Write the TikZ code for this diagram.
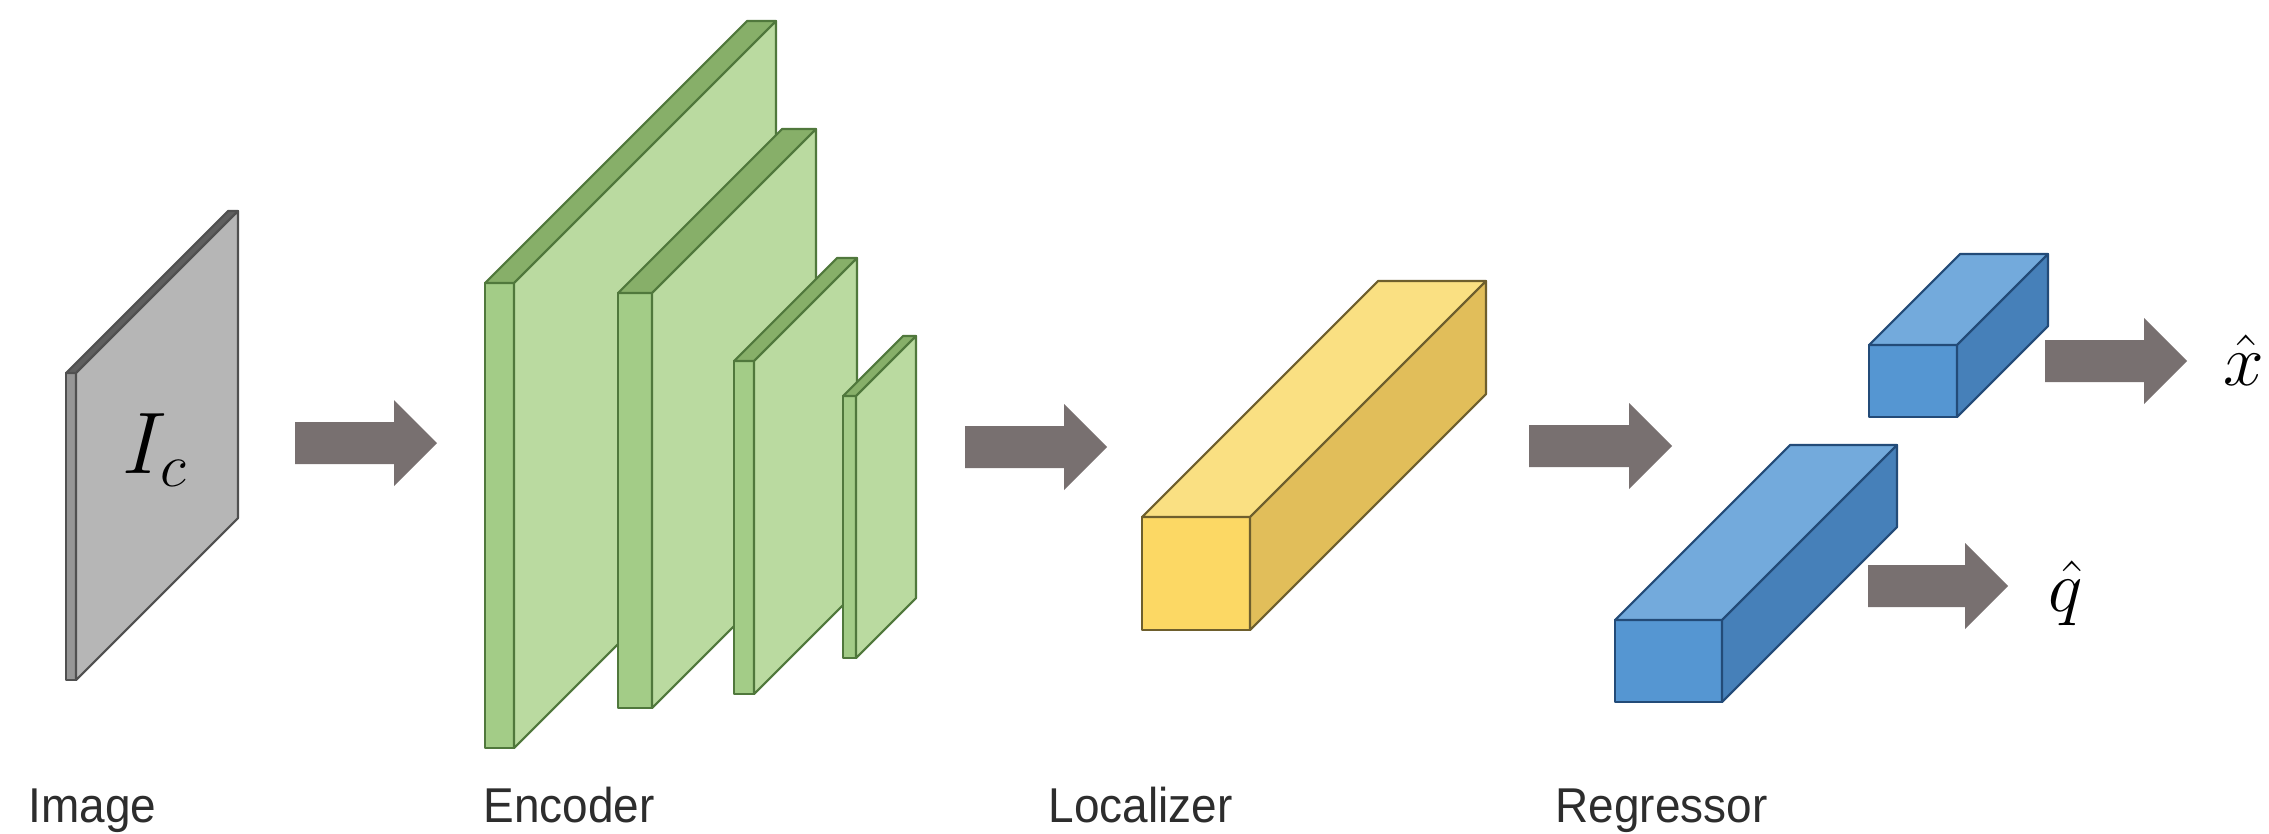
\documentclass[tikz,border=0pt]{standalone}
\usepackage{fontspec}
\newfontfamily\labelfont[FakeStretch=0.94]{Liberation Sans}
\usetikzlibrary{calc}

\definecolor{arrowgray}{RGB}{120,112,112}
\definecolor{textgray}{RGB}{45,45,45}
% green encoder slabs
\definecolor{gfront}{RGB}{163,204,135}
\definecolor{gtop}{RGB}{135,175,105}
\definecolor{gside}{RGB}{186,218,160}
\definecolor{gedge}{RGB}{80,120,60}
% yellow localizer bar
\definecolor{yfront}{RGB}{252,216,100}
\definecolor{ytop}{RGB}{250,224,130}
\definecolor{yside}{RGB}{225,190,90}
\definecolor{yedge}{RGB}{110,95,45}
% blue regressor bars
\definecolor{bfront}{RGB}{85,150,210}
\definecolor{btop}{RGB}{115,170,220}
\definecolor{bside}{RGB}{70,128,185}
\definecolor{bedge}{RGB}{35,75,120}
% grey image plane
\definecolor{ifront}{RGB}{150,150,150}
\definecolor{itop}{RGB}{95,95,95}
\definecolor{iside}{RGB}{182,182,182}
\definecolor{iedge}{RGB}{80,80,80}

% cuboid: name, x, y (top of front face), width, height, depth, colour prefix
\newcommand\cuboid[7]{%
  \filldraw[#7front, draw=#7edge, line width=0.6pt, line join=round]
    (#2,#3) rectangle (#2+#4,#3+#5);
  \filldraw[#7top, draw=#7edge, line width=0.6pt, line join=round]
    (#2,#3) -- (#2+#6,#3-#6) -- (#2+#4+#6,#3-#6) -- (#2+#4,#3) -- cycle;
  \filldraw[#7side, draw=#7edge, line width=0.6pt, line join=round]
    (#2+#4,#3) -- (#2+#4+#6,#3-#6) -- (#2+#4+#6,#3+#5-#6) -- (#2+#4,#3+#5) -- cycle;
  \coordinate (#1) at (#2+#4/2,#3+#5/2);
}

% wide block arrow between two named coordinates (tail -> tip)
\newcommand\blockarrow[2]{%
  \fill[arrowgray] ($(#1)+(0,-21)$) -- ($(#2)+(-43,-21)$) -- ($(#2)+(-43,-43)$)
    -- (#2) -- ($(#2)+(-43,43)$) -- ($(#2)+(-43,21)$) -- ($(#1)+(0,21)$) -- cycle;
}

\tikzset{
  caption/.style={anchor=base west, inner sep=0pt, text=textgray,
    font=\labelfont\fontsize{13.9}{16}\selectfont},
  mathlabel/.style={inner sep=0pt, font=\fontsize{22}{26}\selectfont}
}

\begin{document}
\begin{tikzpicture}[x=0.01cm, y=-0.01cm]
\useasboundingbox[fill=white] (0,0) rectangle (2269,833);

% input image plane
\cuboid{img}{66}{373}{10}{307}{162}{i}
\node[mathlabel, font=\fontsize{24}{28}\selectfont] (ic) at (155,450) {$I_c$};

% encoder: four slabs of decreasing size
\cuboid{enc1}{485}{283}{29}{465}{262}{g}
\cuboid{enc2}{618}{293}{34}{415}{164}{g}
\cuboid{enc3}{734}{361}{20}{333}{103}{g}
\cuboid{enc4}{843}{396}{13}{262}{60}{g}

% localizer
\cuboid{loc}{1142}{517}{108}{113}{236}{y}

% regressor heads
\cuboid{regx}{1869}{345}{88}{72}{91}{b}
\cuboid{regq}{1615}{620}{107}{82}{175}{b}

% arrows
\coordinate (a1s) at (295,443);  \coordinate (a1e) at (437,443);
\coordinate (a2s) at (965,447);  \coordinate (a2e) at (1107,447);
\coordinate (a3s) at (1529,446); \coordinate (a3e) at (1672,446);
\coordinate (a4s) at (1868,586); \coordinate (a4e) at (2008,586);
\coordinate (a5s) at (2045,361); \coordinate (a5e) at (2187,361);
\blockarrow{a1s}{a1e}
\blockarrow{a2s}{a2e}
\blockarrow{a3s}{a3e}
\blockarrow{a4s}{a4e}
\blockarrow{a5s}{a5e}

% outputs
\node[mathlabel] (xhat) at (2244,360) {$\hat{x}$};
\node[mathlabel] (qhat) at (2066,593) {$\hat{q}$};

% stage captions
\node[caption] (limg) at (28,822) {Image};
\node[caption] (lenc) at (483,822) {Encoder};
\node[caption] (lloc) at (1048,822) {Localizer};
\node[caption] (lreg) at (1555,822) {Regressor};
\end{tikzpicture}
\end{document}
